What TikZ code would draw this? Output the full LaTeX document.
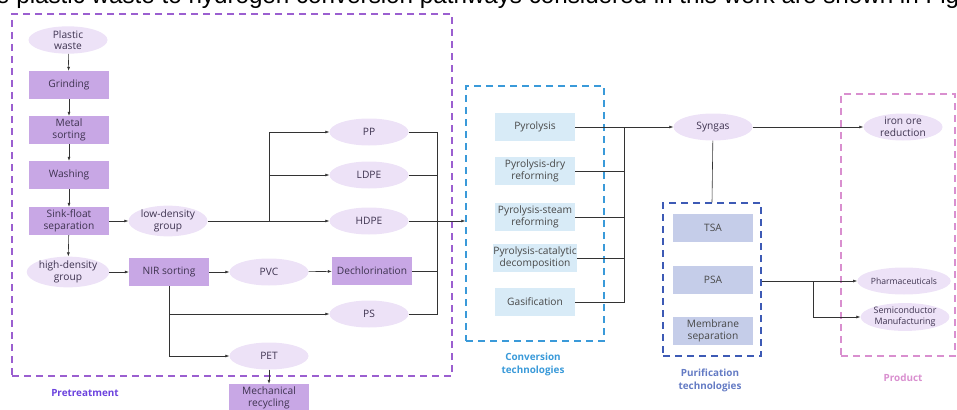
\documentclass[tikz,border=0pt]{standalone}
\usepackage{fontspec}
\setmainfont{Open Sans}
\usepackage{tikz}
\usetikzlibrary{positioning,arrows.meta,shapes.geometric}
\definecolor{pretcolor}{HTML}{9B5FD0}
\definecolor{convcolor}{HTML}{3A9AD9}
\definecolor{puricolor}{HTML}{3D5AB5}
\definecolor{prodcolor}{HTML}{D98FCF}
\definecolor{txtcolor}{HTML}{3E3350}
\tikzset{
  proc/.style={rectangle, fill=pretcolor!55, minimum width=80pt, minimum height=28pt, inner sep=0pt, font=\fontsize{10.2}{11.5}\selectfont, text=txtcolor, align=center},
  blob/.style={ellipse, fill=pretcolor!18, minimum width=79pt, minimum height=27pt, inner sep=0pt, font=\fontsize{10.2}{11.5}\selectfont, text=txtcolor, align=center},
  conv/.style={rectangle, fill=convcolor!20, minimum width=80pt, minimum height=28pt, inner sep=0pt, font=\fontsize{10.2}{11.5}\selectfont, text=black!72, align=center},
  puri/.style={rectangle, fill=puricolor!30, minimum width=80pt, minimum height=28pt, inner sep=0pt, font=\fontsize{10.2}{11.5}\selectfont, text=black!72, align=center},
  grp/.style={draw, dash pattern=on 7pt off 5pt, line width=1.4pt, inner sep=0pt},
  glbl/.style={font=\fontsize{9.9}{13}\selectfont\bfseries, align=center},
  flow/.style={-{Latex[length=4pt,width=3pt]}, line width=0.6pt, draw=black!80},
  wire/.style={line width=0.6pt, draw=black!80},
}
\begin{document}
\begin{tikzpicture}[x=1pt,y=-1pt]
\useasboundingbox (0,0) rectangle (957,409);
\node[anchor=base west, font=\fontsize{24.2}{27}\selectfont, inner sep=0pt] (caption) at (-4,4) {\setmainfont{Liberation Sans}\rmfamily e plastic waste to hydrogen conversion pathways considered in this work are shown in Fig};
% group frames
\node[grp, draw=pretcolor, minimum width=440pt, minimum height=362pt] (pretbox) at (232,195) {};
\node[grp, draw=convcolor, minimum width=138pt, minimum height=255pt] (convbox) at (535,213.5) {};
\node[grp, draw=puricolor, minimum width=98pt, minimum height=153pt] (puribox) at (712,279.5) {};
\node[grp, draw=prodcolor, minimum width=114pt, minimum height=262pt] (prodbox) at (898,225) {};
\node[glbl, text=pretcolor!70!blue] (pretlbl) at (85,393) {Pretreatment};
\node[glbl, text=convcolor] (convlbl) at (533,364) {Conversion\\technologies};
\node[glbl, text=puricolor!80!white] (purilbl) at (710,380) {Purification\\technologies};
\node[glbl, text=prodcolor] (prodlbl) at (903,378) {Product};
% pretreatment
\node[blob] (waste) at (68,40) {Plastic\\waste};
\node[proc] (grind) at (69,85) {Grinding};
\node[proc] (metal) at (69,130) {Metal\\sorting};
\node[proc] (wash) at (69,175) {Washing};
\node[proc] (sink) at (69,221) {Sink-float\\separation};
\node[blob] (lowd) at (168,221) {low-density\\group};
\node[blob] (highd) at (68,272) {high-density\\group};
\node[proc] (nir) at (169,272) {NIR sorting};
\node[blob] (pvc) at (269,272) {PVC};
\node[proc] (dechl) at (372,271) {Dechlorination};
\node[blob] (pp) at (369,132) {PP};
\node[blob] (ldpe) at (369,175) {LDPE};
\node[blob] (hdpe) at (369,221) {HDPE};
\node[blob] (ps) at (369,314) {PS};
\node[blob] (pet) at (269,356) {PET};
\node[proc] (mech) at (269,398) {Mechanical\\recycling};
\coordinate (split1) at (269,221);
\coordinate (join1) at (437,221);
\draw[flow] (waste) -- (grind);
\draw[flow] (grind) -- (metal);
\draw[flow] (metal) -- (wash);
\draw[flow] (wash) -- (sink);
\draw[flow] (sink) -- (lowd);
\draw[flow] (sink) -- (highd);
\draw[flow] (lowd) -- (hdpe);
\draw[flow] (split1) |- (pp);
\draw[flow] (split1) |- (ldpe);
\draw[flow] (highd) -- (nir);
\draw[flow] (nir) -- (pvc);
\draw[flow] (pvc) -- (dechl);
\draw[flow] (nir.south) |- (pet);
\draw[flow] (nir.south |- ps) -- (ps);
\draw[flow] (pet) -- (mech);
\draw[wire] (pp) -| (join1);
\draw[wire] (ldpe) -| (join1);
\draw[wire] (dechl) -| (join1);
\draw[wire] (ps) -| (join1);
\draw[flow] (hdpe) -- (convbox.west |- hdpe);
% conversion
\node[conv] (pyro) at (535,127) {Pyrolysis};
\node[conv] (dry) at (535,171) {Pyrolysis-dry\\reforming};
\node[conv] (steam) at (535,217) {Pyrolysis-steam\\reforming};
\node[conv] (cat) at (535,258) {Pyrolysis-catalytic\\decomposition};
\node[conv] (gasif) at (535,302) {Gasification};
\node[blob] (syngas) at (713,127) {Syngas};
\coordinate (join2) at (624,127);
\draw[wire] (dry) -| (join2);
\draw[wire] (steam) -| (join2);
\draw[wire] (cat) -| (join2);
\draw[wire] (gasif) -| (join2);
\draw[flow] (pyro) -- (syngas);
% purification
\node[puri] (tsa) at (713,228) {TSA};
\node[puri] (psa) at (713,280) {PSA};
\node[puri] (memb) at (713,331) {Membrane\\separation};
\draw[wire] (syngas) -- (puribox.north);
% products
\node[blob] (iron) at (903,127) {iron ore\\reduction};
\node[blob, font=\fontsize{8.6}{10.5}\selectfont] (pharma) at (904,281) {Pharmaceuticals};
\node[blob, font=\fontsize{8.9}{10.8}\selectfont] (semi) at (905,317) {Semiconductor\\Manufacturing};
\coordinate (split3) at (813,281);
\draw[flow] (syngas) -- (iron);
\draw[flow] (puribox.east |- pharma) -- (pharma);
\draw[flow] (split3) |- (semi);
\end{tikzpicture}
\end{document}
